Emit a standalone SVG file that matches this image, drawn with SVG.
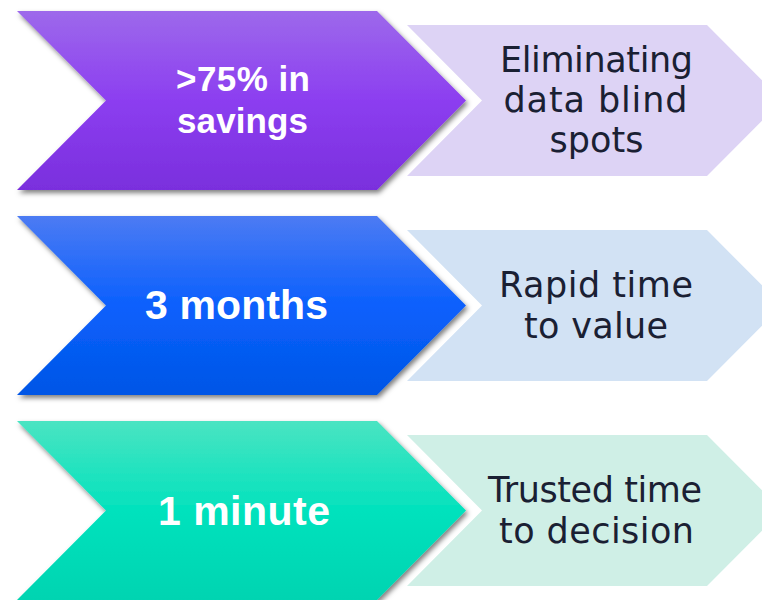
<svg xmlns="http://www.w3.org/2000/svg" width="762" height="600" viewBox="0 0 762 600">
  <defs>
    <linearGradient id="gPurple" x1="0" y1="0" x2="0" y2="1">
      <stop offset="0" stop-color="#9d69eb"/>
      <stop offset="0.5" stop-color="#8c3ef0"/>
      <stop offset="1" stop-color="#7a2fdd"/>
    </linearGradient>
    <linearGradient id="gBlue" x1="0" y1="0" x2="0" y2="1">
      <stop offset="0" stop-color="#4c7bf3"/>
      <stop offset="0.5" stop-color="#0b60fd"/>
      <stop offset="1" stop-color="#0056e6"/>
    </linearGradient>
    <linearGradient id="gTeal" x1="0" y1="0" x2="0" y2="1">
      <stop offset="0" stop-color="#4ae4c2"/>
      <stop offset="0.5" stop-color="#02e2bd"/>
      <stop offset="1" stop-color="#00d4b1"/>
    </linearGradient>
    <filter id="shadow" x="-10%" y="-10%" width="125%" height="130%">
      <feDropShadow dx="2" dy="3" stdDeviation="2.5" flood-color="#000" flood-opacity="0.5"/>
    </filter>
    <polygon id="big" points="17,11 377,11 466,100.5 377,190 17,190 106,100.5"/>
    <polygon id="small" points="407,25 707,25 782,100.5 707,176 407,176 482,100.5"/>
  </defs>
  <style>
    .halo { fill: #ffffff; stroke: #ffffff; stroke-width: 18; stroke-linejoin: miter; stroke-miterlimit: 4; }
    .big { filter: url(#shadow); }
    .lbl { font-family: "Liberation Sans", Arial, sans-serif; font-weight: bold; fill: #ffffff; text-anchor: middle; }
    .desc { font-family: "DejaVu Sans", "Liberation Sans", sans-serif; font-size: 35px; fill: #1a2033; text-anchor: middle; }
  </style>

  <g id="row1">
    <use href="#small" fill="#ddd3f5"/>
    <use href="#big" class="halo"/>
    <use href="#big" class="big" fill="url(#gPurple)"/>
    <text class="lbl" x="243" y="91" font-size="35" textLength="134">&gt;75% in</text>
    <text class="lbl" x="242.5" y="133" font-size="35" textLength="131">savings</text>
    <text class="desc" x="596.5" y="72" textLength="193">Eliminating</text>
    <text class="desc" x="595.5" y="112" textLength="184">data blind</text>
    <text class="desc" x="596.5" y="152">spots</text>
  </g>

  <g id="row2" transform="translate(0,205)">
    <use href="#small" fill="#d2e2f4"/>
    <use href="#big" class="halo"/>
    <use href="#big" class="big" fill="url(#gBlue)"/>
    <text class="lbl" x="236.5" y="114" font-size="41" textLength="183">3 months</text>
    <text class="desc" x="596" y="92" textLength="194">Rapid time</text>
    <text class="desc" x="596" y="133" textLength="144">to value</text>
  </g>

  <g id="row3" transform="translate(0,410)">
    <use href="#small" fill="#cfefe6"/>
    <use href="#big" class="halo"/>
    <use href="#big" class="big" fill="url(#gTeal)"/>
    <text class="lbl" x="244" y="115" font-size="41" textLength="172">1 minute</text>
    <text class="desc" x="595" y="92" textLength="214">Trusted time</text>
    <text class="desc" x="596.5" y="133" textLength="195">to decision</text>
  </g>

  <g id="connectors"></g>
</svg>
